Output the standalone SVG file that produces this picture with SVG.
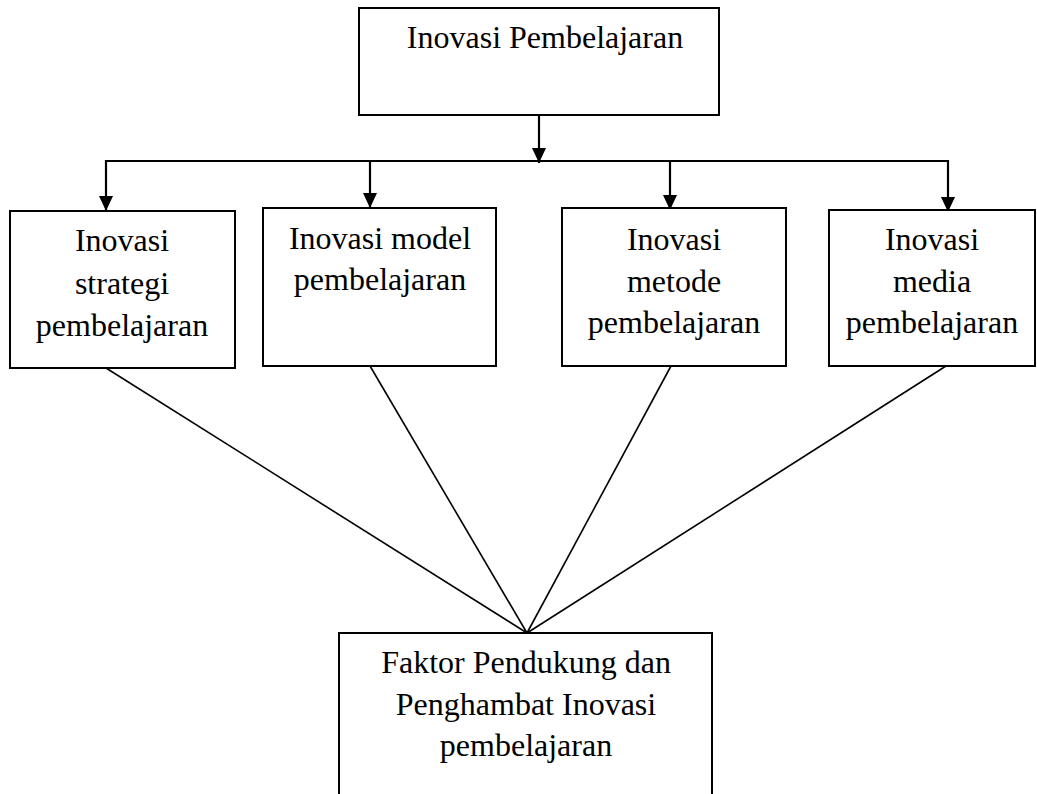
<svg xmlns="http://www.w3.org/2000/svg" width="1037" height="794" viewBox="0 0 1037 794">
<style>
.box{fill:#fff;stroke:#000;stroke-width:2}
.t{font-family:"Liberation Serif","Times New Roman",serif;font-size:32px;fill:#000;text-anchor:middle}
.arr{stroke:#000;stroke-width:2.2;fill:none}
.diag{stroke:#000;stroke-width:1.6;fill:none}
</style>
<defs>
<marker id="ah" markerUnits="userSpaceOnUse" markerWidth="16" markerHeight="16" viewBox="0 0 16 16" refX="15" refY="8" orient="auto">
<path d="M0,1 L15,8 L0,15 Z" fill="#000"/>
</marker>
</defs>
<rect width="1037" height="794" fill="#fff"/>
<g id="connectors">
<line class="arr" x1="539" y1="115" x2="539" y2="163" marker-end="url(#ah)"/>
<line class="arr" x1="105" y1="161" x2="948" y2="161"/>
<line class="arr" x1="106" y1="160" x2="106" y2="211" marker-end="url(#ah)"/>
<line class="arr" x1="370" y1="160" x2="370" y2="208" marker-end="url(#ah)"/>
<line class="arr" x1="670" y1="160" x2="670" y2="210" marker-end="url(#ah)"/>
<line class="arr" x1="948" y1="160" x2="948" y2="212" marker-end="url(#ah)"/>
<line class="diag" x1="106" y1="368" x2="527" y2="633"/>
<line class="diag" x1="370" y1="366" x2="527" y2="633"/>
<line class="diag" x1="671" y1="366" x2="527" y2="633"/>
<line class="diag" x1="946" y1="366" x2="527" y2="633"/>
</g>
<g id="top">
<rect class="box" x="359" y="8" width="360" height="107"/>
<text class="t" x="545" y="48">Inovasi Pembelajaran</text>
</g>
<g id="strategi">
<rect class="box" x="10" y="211" width="225" height="157"/>
<text class="t" x="122" y="251">Inovasi</text>
<text class="t" x="122" y="294">strategi</text>
<text class="t" x="122" y="336">pembelajaran</text>
</g>
<g id="model">
<rect class="box" x="263" y="208" width="233" height="158"/>
<text class="t" x="380" y="249">Inovasi model</text>
<text class="t" x="380" y="290">pembelajaran</text>
</g>
<g id="metode">
<rect class="box" x="562" y="208" width="224" height="158"/>
<text class="t" x="674" y="250">Inovasi</text>
<text class="t" x="674" y="292">metode</text>
<text class="t" x="674" y="333">pembelajaran</text>
</g>
<g id="media">
<rect class="box" x="829" y="210" width="206" height="156"/>
<text class="t" x="932" y="250">Inovasi</text>
<text class="t" x="932" y="292">media</text>
<text class="t" x="932" y="333">pembelajaran</text>
</g>
<g id="faktor">
<rect class="box" x="339" y="633" width="373" height="170"/>
<text class="t" x="526" y="673">Faktor Pendukung dan</text>
<text class="t" x="526" y="715">Penghambat Inovasi</text>
<text class="t" x="526" y="756">pembelajaran</text>
</g>
</svg>
